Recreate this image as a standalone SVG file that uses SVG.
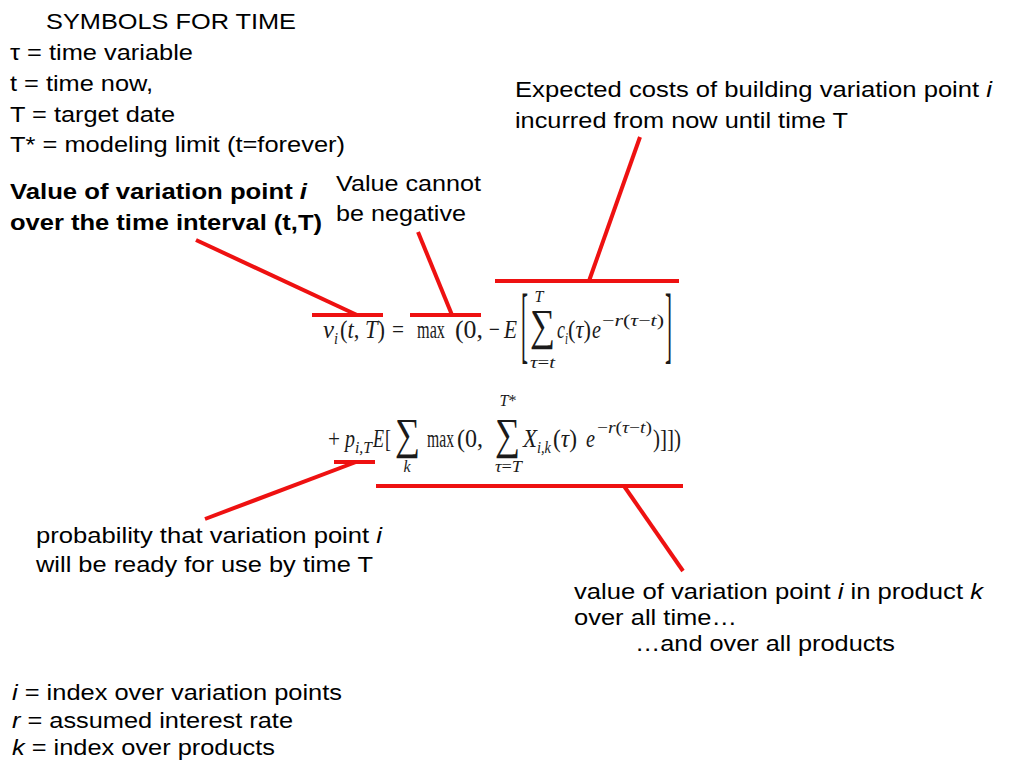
<svg xmlns="http://www.w3.org/2000/svg" width="1024" height="768" viewBox="0 0 1024 768">
<style>
.t{font-family:"Liberation Sans",Arial,sans-serif;font-size:22px;fill:#000}
.b{font-weight:bold}
.it{font-style:italic}
.m{font-family:"Liberation Serif","Times New Roman",serif;font-size:26px;fill:#1a1a1a}
.s{font-size:16px}
.e{font-size:17px}
.big{font-size:84px}
.sum{font-size:44px}
.red{stroke:#ee1111;stroke-width:4;fill:none;stroke-linecap:butt}
</style>
<rect width="1024" height="768" fill="#fff"/>

<g id="symbols">
<text class="t" x="46" y="29" textLength="250" lengthAdjust="spacingAndGlyphs">SYMBOLS FOR TIME</text>
<text class="t" x="10" y="60" textLength="183" lengthAdjust="spacingAndGlyphs">τ = time variable</text>
<text class="t" x="10" y="91" textLength="143" lengthAdjust="spacingAndGlyphs">t = time now,</text>
<text class="t" x="10" y="122" textLength="165" lengthAdjust="spacingAndGlyphs">T = target date</text>
<text class="t" x="10" y="152" textLength="335" lengthAdjust="spacingAndGlyphs">T* = modeling limit (t=forever)</text>
</g>

<g id="label-value">
<text class="t b" x="10" y="199" textLength="297" lengthAdjust="spacingAndGlyphs">Value of variation point <tspan class="it">i</tspan></text>
<text class="t b" x="10" y="230" textLength="312" lengthAdjust="spacingAndGlyphs">over the time interval (t,T)</text>
</g>

<g id="label-negative">
<text class="t" x="336" y="191" textLength="145" lengthAdjust="spacingAndGlyphs">Value cannot</text>
<text class="t" x="336" y="221" textLength="130" lengthAdjust="spacingAndGlyphs">be negative</text>
</g>

<g id="label-costs">
<text class="t" x="515" y="97" textLength="477" lengthAdjust="spacingAndGlyphs">Expected costs of building variation point <tspan class="it">i</tspan></text>
<text class="t" x="515" y="128" textLength="333" lengthAdjust="spacingAndGlyphs">incurred from now until time T</text>
</g>

<g id="label-probability">
<text class="t" x="36" y="543" textLength="346" lengthAdjust="spacingAndGlyphs">probability that variation point <tspan class="it">i</tspan></text>
<text class="t" x="36" y="572" textLength="337" lengthAdjust="spacingAndGlyphs">will be ready for use by time T</text>
</g>

<g id="label-product">
<text class="t" x="574" y="599" textLength="409" lengthAdjust="spacingAndGlyphs">value of variation point <tspan class="it">i</tspan> in product <tspan class="it">k</tspan></text>
<text class="t" x="574" y="625" textLength="163" lengthAdjust="spacingAndGlyphs">over all time…</text>
<text class="t" x="635" y="651" textLength="260" lengthAdjust="spacingAndGlyphs">…and over all products</text>
</g>

<g id="legend">
<text class="t" x="12" y="700" textLength="330" lengthAdjust="spacingAndGlyphs"><tspan class="it">i</tspan> = index over variation points</text>
<text class="t" x="12" y="728" textLength="281" lengthAdjust="spacingAndGlyphs"><tspan class="it">r</tspan> = assumed interest rate</text>
<text class="t" x="12" y="755" textLength="263" lengthAdjust="spacingAndGlyphs"><tspan class="it">k</tspan> = index over products</text>
</g>

<g id="formula-line1">
<text class="m it" x="323" y="338" textLength="11" lengthAdjust="spacingAndGlyphs">v</text>
<text class="m it s" x="334" y="344" textLength="4" lengthAdjust="spacingAndGlyphs">i</text>
<text class="m" x="340" y="338" textLength="45" lengthAdjust="spacingAndGlyphs">(<tspan class="it">t</tspan>, <tspan class="it">T</tspan>)</text>
<text class="m" x="392" y="338" textLength="12" lengthAdjust="spacingAndGlyphs">=</text>
<text class="m" x="417" y="338" textLength="28" lengthAdjust="spacingAndGlyphs">max</text>
<text class="m" x="455" y="338" textLength="28" lengthAdjust="spacingAndGlyphs">(0,</text>
<text class="m" x="489" y="338" textLength="11" lengthAdjust="spacingAndGlyphs">−</text>
<text class="m it" x="504" y="338" textLength="13" lengthAdjust="spacingAndGlyphs">E</text>
<text class="m big" x="521" y="353" textLength="7" lengthAdjust="spacingAndGlyphs">[</text>
<text class="m sum" x="530" y="340" textLength="25" lengthAdjust="spacingAndGlyphs">∑</text>
<text class="m it s" x="539" y="302" text-anchor="middle">T</text>
<text class="m s" x="530" y="368" textLength="25" lengthAdjust="spacingAndGlyphs"><tspan class="it">τ</tspan>=<tspan class="it">t</tspan></text>
<text class="m it" x="557" y="338" textLength="8" lengthAdjust="spacingAndGlyphs">c</text>
<text class="m it s" x="565" y="344" textLength="3" lengthAdjust="spacingAndGlyphs">i</text>
<text class="m" x="568" y="338" textLength="23" lengthAdjust="spacingAndGlyphs">(<tspan class="it">τ</tspan>)</text>
<text class="m it" x="592" y="338" textLength="9" lengthAdjust="spacingAndGlyphs">e</text>
<text class="m e" x="602" y="326" textLength="62" lengthAdjust="spacingAndGlyphs">−<tspan class="it">r</tspan>(<tspan class="it">τ</tspan>−<tspan class="it">t</tspan>)</text>
<text class="m big" x="665" y="353" textLength="7" lengthAdjust="spacingAndGlyphs">]</text>
</g>

<g id="formula-line2">
<text class="m" x="328" y="447" textLength="12" lengthAdjust="spacingAndGlyphs">+</text>
<text class="m it" x="345" y="447" textLength="10" lengthAdjust="spacingAndGlyphs">p</text>
<text class="m it s" x="355" y="453" textLength="17" lengthAdjust="spacingAndGlyphs">i,T</text>
<text class="m it" x="373" y="447" textLength="11" lengthAdjust="spacingAndGlyphs">E</text>
<text class="m" x="385" y="447" textLength="6" lengthAdjust="spacingAndGlyphs">[</text>
<text class="m sum" x="395" y="449" textLength="25" lengthAdjust="spacingAndGlyphs">∑</text>
<text class="m it s" x="407" y="472" text-anchor="middle">k</text>
<text class="m" x="427" y="447" textLength="27" lengthAdjust="spacingAndGlyphs">max</text>
<text class="m" x="457" y="447" textLength="26" lengthAdjust="spacingAndGlyphs">(0,</text>
<text class="m sum" x="495" y="449" textLength="25" lengthAdjust="spacingAndGlyphs">∑</text>
<text class="m s" x="508" y="406" text-anchor="middle"><tspan class="it">T</tspan>*</text>
<text class="m s" x="495" y="472" textLength="27" lengthAdjust="spacingAndGlyphs"><tspan class="it">τ</tspan>=<tspan class="it">T</tspan></text>
<text class="m it" x="523" y="447" textLength="14" lengthAdjust="spacingAndGlyphs">X</text>
<text class="m it s" x="537" y="453" textLength="14" lengthAdjust="spacingAndGlyphs">i,k</text>
<text class="m" x="553" y="447" textLength="24" lengthAdjust="spacingAndGlyphs">(<tspan class="it">τ</tspan>)</text>
<text class="m it" x="586" y="447" textLength="9" lengthAdjust="spacingAndGlyphs">e</text>
<text class="m e" x="597" y="433" textLength="55" lengthAdjust="spacingAndGlyphs">−<tspan class="it">r</tspan>(<tspan class="it">τ</tspan>−<tspan class="it">t</tspan>)</text>
<text class="m" x="653" y="447" textLength="28" lengthAdjust="spacingAndGlyphs">)]])</text>
</g>

<g id="connectors">
<line class="red" x1="312" y1="315" x2="383" y2="315"/>
<line class="red" x1="196" y1="240" x2="357" y2="315"/>
<line class="red" x1="410" y1="315" x2="481" y2="315"/>
<line class="red" x1="418" y1="232" x2="452" y2="315"/>
<line class="red" x1="495" y1="281" x2="679" y2="281"/>
<line class="red" x1="640" y1="137" x2="589" y2="281"/>
<line class="red" x1="334" y1="462" x2="375" y2="462"/>
<line class="red" x1="205" y1="519" x2="356" y2="462"/>
<line class="red" x1="376" y1="486" x2="683" y2="486"/>
<line class="red" x1="624" y1="486" x2="683" y2="571"/>
</g>
</svg>
